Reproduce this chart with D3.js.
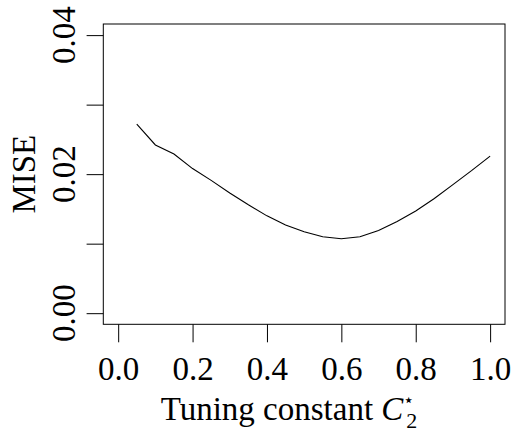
<!DOCTYPE html>
<html>
<head>
<meta charset="utf-8">
<script src="https://cdn.jsdelivr.net/npm/d3@7"></script>
<style>
  body { margin: 0; background: #fff; }
  text { font-family: "Liberation Serif", "DejaVu Serif", serif; fill: #000; }
</style>
</head>
<body>
<div id="chart"></div>
<script>
// tuning constant C2* and the MISE
var tuning = [0.05, 0.10, 0.15, 0.20, 0.25, 0.30, 0.35, 0.40, 0.45, 0.50,
              0.55, 0.60, 0.65, 0.70, 0.75, 0.80, 0.85, 0.90, 0.95, 1.00];
var mise = [0.0272, 0.0242, 0.0229, 0.0208, 0.0191, 0.0173, 0.0156, 0.0140, 0.0127, 0.0117,
            0.0110, 0.0107, 0.0110, 0.0119, 0.0132, 0.0147, 0.0165, 0.0185, 0.0205, 0.0226];

var xTicks = [0, 0.2, 0.4, 0.6, 0.8, 1.0];
var yTicks = [0, 0.01, 0.02, 0.03, 0.04];
var yLabelled = [0, 0.02, 0.04];

function init() {
    var W = 512, H = 432;
    var left = 103.3, right = 505, top = 24, bottom = 324.3;

    // R style: limits [0,1] and [0,0.04] widened by 4%
    var x = d3.scaleLinear().domain([-0.04, 1.04]).range([left, right]),
        y = d3.scaleLinear().domain([-0.0016, 0.0416]).range([bottom, top]);

    var svg = d3.select("#chart").append("svg")
        .attr("width", W)
        .attr("height", H);

    // x axis ticks hanging below the box
    var xAxis = d3.axisBottom(x)
        .tickValues(xTicks)
        .tickSize(18)
        .tickPadding(14)
        .tickFormat(d3.format(".1f"));

    var gx = svg.append("g")
        .attr("transform", "translate(0," + bottom + ")")
        .call(xAxis);
    gx.select(".domain").remove();
    gx.selectAll("line").attr("stroke", "#000").attr("stroke-width", 1);
    gx.selectAll("text")
        .attr("font-size", 33)
        .attr("font-family", "Liberation Serif, serif")
        .attr("fill", "#000");

    // y axis: ticks at every 0.01, labels only on some
    var yAxis = d3.axisLeft(y)
        .tickValues(yTicks)
        .tickSize(16.7)
        .tickFormat("");

    var gy = svg.append("g")
        .attr("transform", "translate(" + left + ",0)")
        .call(yAxis);
    gy.select(".domain").remove();
    gy.selectAll("line").attr("stroke", "#000").attr("stroke-width", 1);

    svg.selectAll(".ylab")
        .data(yLabelled)
        .enter().append("text")
        .attr("class", "ylab")
        .attr("transform", function(d) { return "translate(75," + y(d) + ") rotate(-90)"; })
        .attr("text-anchor", "middle")
        .attr("font-size", 33)
        .text(d3.format(".2f"));

    // the box
    svg.append("rect")
        .attr("x", left)
        .attr("y", top)
        .attr("width", right - left)
        .attr("height", bottom - top)
        .attr("fill", "none")
        .attr("stroke", "#000")
        .attr("stroke-width", 1);

    // the curve
    var line = d3.line()
        .x(function(d, i) { return x(tuning[i]); })
        .y(function(d) { return y(d); });

    svg.append("path")
        .datum(mise)
        .attr("d", line)
        .attr("fill", "none")
        .attr("stroke", "#000")
        .attr("stroke-width", 1.1);

    // axis titles
    var xt = svg.append("text")
        .attr("x", 289)
        .attr("y", 420)
        .attr("text-anchor", "middle")
        .attr("font-size", 33);
    xt.append("tspan").text("Tuning constant ");
    xt.append("tspan").attr("font-style", "italic").text("C");
    xt.append("tspan")
        .attr("font-size", 18)
        .attr("font-family", "DejaVu Serif, serif")
        .attr("dy", -14)
        .text("\u22C6");
    xt.append("tspan")
        .attr("font-size", 22)
        .attr("dx", -8)
        .attr("dy", 22)
        .text("2");

    svg.append("text")
        .attr("transform", "translate(35," + ((top + bottom) / 2) + ") rotate(-90)")
        .attr("text-anchor", "middle")
        .attr("font-size", 33)
        .text("MISE");
}
init();
</script>
</body>
</html>
